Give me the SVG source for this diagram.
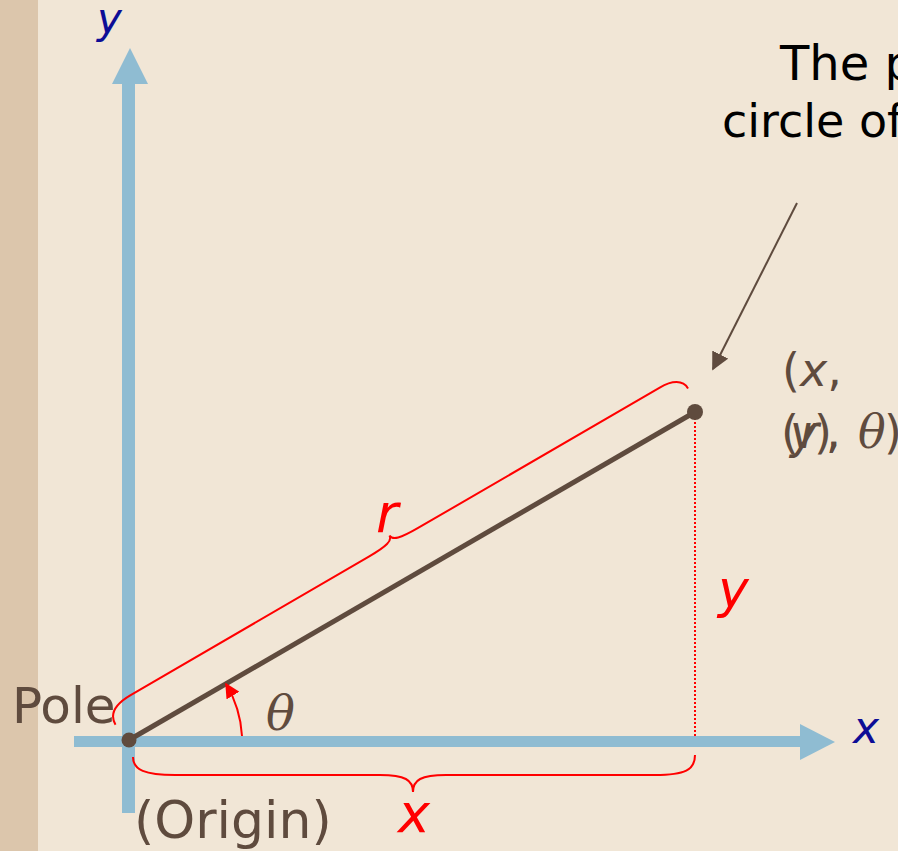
<svg xmlns="http://www.w3.org/2000/svg" width="898" height="851" viewBox="0 0 898 851">
<defs>
<style>
.txt{font-family:"DejaVu Sans","Liberation Sans",sans-serif;}
.brown{fill:#5f4b3e;}
.red{fill:#ff0000;}
.blue{fill:#0d0d96;}
.it{font-style:italic;}
.th{font-family:"DejaVu Serif","Liberation Serif",serif;font-style:italic;}
.axis{fill:#8fbcd2;}
.brace{fill:none;stroke:#ff0000;stroke-width:2;}
</style>
<marker id="redHead" viewBox="0 0 10 10" refX="9" refY="5" markerWidth="15" markerHeight="15" markerUnits="userSpaceOnUse" orient="auto">
<path d="M0,0 L10,5 L0,10 Z" fill="#ff0000"/>
</marker>
<marker id="brownHead" viewBox="0 0 10 10" refX="9" refY="5" markerWidth="18" markerHeight="18" markerUnits="userSpaceOnUse" orient="auto">
<path d="M0,0 L10,5 L0,10 Z" fill="#5f4b3e"/>
</marker>
</defs>
<rect x="0" y="0" width="898" height="851" fill="#f1e6d6"/>
<rect x="0" y="0" width="38" height="851" fill="#dcc6ac"/>

<g id="y-axis">
<rect class="axis" x="122" y="82" width="13" height="731"/>
<polygon class="axis" points="130,48 148,84 112,84"/>
<text class="txt blue it" x="97" y="33" font-size="42">y</text>
</g>
<g id="x-axis">
<rect class="axis" x="74" y="736" width="728" height="11"/>
<polygon class="axis" points="835,742 800,724 800,760"/>
<text class="txt blue it" x="853" y="743" font-size="44">x</text>
</g>

<g id="connectors">
<line x1="129" y1="740" x2="695" y2="412" stroke="#5f4b3e" stroke-width="5"/>
<line x1="695" y1="418" x2="695" y2="736" stroke="#ff0000" stroke-width="2" stroke-dasharray="2,2"/>
<path class="brace" transform="translate(129,740) rotate(-30.17)" d="M -4,-20 C -4,-32 6,-38 24,-38 L 300,-38 C 320,-38 328,-40 328,-46 C 328,-40 336,-38 356,-38 L 636,-38 C 650,-38 660,-33 660,-23"/>
<path class="brace" d="M 133,757 C 133,770 145,775 175,775 L 380,775 C 405,775 413,780 413,792 C 413,780 421,775 446,775 L 655,775 C 685,775 695,770 695,755"/>
<path d="M 242,736 A 113,113 0 0 0 226,684" fill="none" stroke="#ff0000" stroke-width="2" marker-end="url(#redHead)"/>
<line x1="797" y1="203" x2="713" y2="369" stroke="#5f4b3e" stroke-width="2" marker-end="url(#brownHead)"/>
</g>

<g id="pole">
<circle cx="129" cy="740" r="7.5" fill="#5f4b3e"/>
<text class="txt brown" x="12" y="723" font-size="50">Pole</text>
<text class="txt brown" x="134" y="838" font-size="52">(Origin)</text>
</g>

<g id="point">
<circle cx="695" cy="412" r="8" fill="#5f4b3e"/>
<text class="txt brown" x="782" y="386" font-size="46">(<tspan class="it">x</tspan>,</text>
<text class="txt brown" font-size="46" y="448"><tspan class="it" x="790">y</tspan><tspan x="814">)</tspan><tspan x="826">,</tspan></text>
<text class="txt brown" font-size="46" y="448"><tspan x="781">(</tspan><tspan class="it" x="800">r</tspan><tspan x="826">,</tspan><tspan class="th" x="858">θ</tspan><tspan x="884">)</tspan></text>
</g>

<g id="labels">
<text class="txt red it" x="376" y="532" font-size="54">r</text>
<text class="txt red it" x="718" y="607" font-size="52">y</text>
<text class="txt red it" x="398" y="832" font-size="54">x</text>
<text class="th brown" x="266" y="730" font-size="48">θ</text>
</g>

<g id="note">
<text class="txt" x="780" y="80" font-size="48" fill="#000">The p</text>
<text class="txt" x="722" y="137" font-size="46" fill="#000">circle of</text>
</g>
</svg>
